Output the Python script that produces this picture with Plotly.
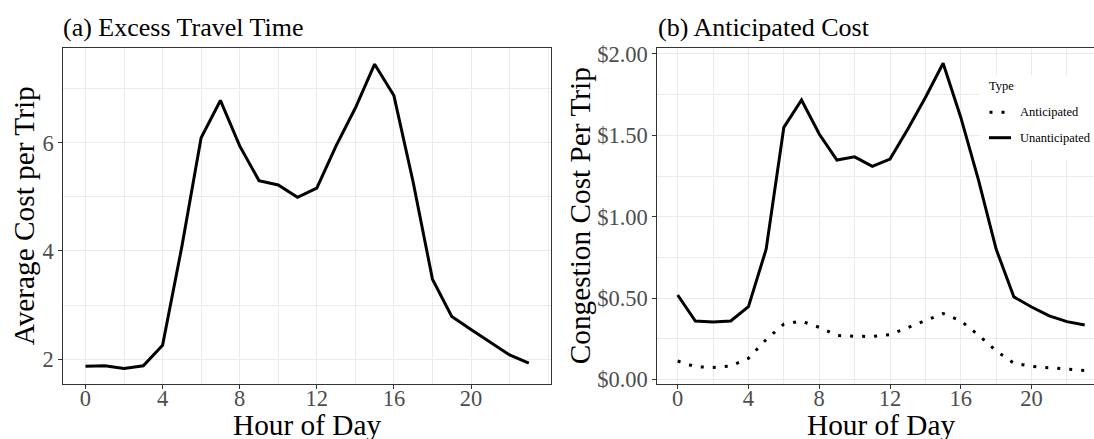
import plotly.graph_objects as go

W, H = 1094, 439

hours = list(range(24))
excess_cost = [1.87, 1.88, 1.83, 1.88, 2.26, 4.08, 6.09, 6.78, 5.94, 5.30, 5.22, 4.99,
               5.16, 5.94, 6.64, 7.45, 6.87, 5.27, 3.48, 2.79, 2.55, 2.32, 2.08, 1.93]
unanticipated = [0.519, 0.359, 0.353, 0.359, 0.447, 0.80, 1.549, 1.717, 1.508, 1.348, 1.368, 1.309,
                 1.354, 1.538, 1.733, 1.943, 1.61, 1.225, 0.80, 0.507, 0.445, 0.39, 0.355, 0.334]
anticipated = [0.113, 0.078, 0.074, 0.082, 0.13, 0.245, 0.34, 0.358, 0.32, 0.27, 0.265, 0.264,
               0.275, 0.32, 0.365, 0.405, 0.36, 0.272, 0.175, 0.10, 0.08, 0.071, 0.06, 0.055]
hour_ticks = [0, 4, 8, 12, 16, 20]

title_a = "(a) Excess Travel Time"
title_b = "(b) Anticipated Cost"
xlabel = "Hour of Day"
ylabel_a = "Average Cost per Trip"
ylabel_b = "Congestion Cost Per Trip"
legend_title = "Type"
legend_names = ["Anticipated", "Unanticipated"]

FONT = "Liberation Serif, Times New Roman, serif"
GRID = "#EBEBEB"
BORDER = "#333333"
TICKC = "#4D4D4D"


def px(x):
    return x / W


def py(y):
    return 1 - y / H


fig = go.Figure()
fig.add_trace(go.Scatter(x=hours, y=excess_cost, mode="lines", line=dict(color="black", width=3),
                         xaxis="x", yaxis="y", showlegend=False))
fig.add_trace(go.Scatter(x=hours, y=anticipated, mode="lines", name=legend_names[0],
                         line=dict(color="black", width=3, dash="3px,9px"),
                         xaxis="x2", yaxis="y2", showlegend=False))
fig.add_trace(go.Scatter(x=hours, y=unanticipated, mode="lines", name=legend_names[1],
                         line=dict(color="black", width=3),
                         xaxis="x2", yaxis="y2", showlegend=False))

ydom = [py(384.3), py(48.3)]
common_x = dict(tickmode="array", tickvals=hour_ticks, ticks="outside", ticklen=4, tickwidth=1.1,
                tickcolor=BORDER, showline=True, linecolor=BORDER, linewidth=1.1,
                showgrid=True, gridcolor=GRID, gridwidth=1.2, zeroline=False,
                tickfont=dict(family=FONT, size=22.5, color=TICKC), ticklabelstandoff=-10,
                minor=dict(tick0=0, dtick=2, showgrid=True, gridcolor=GRID, gridwidth=0.6),
                automargin=False)
common_y = dict(ticks="outside", ticklen=4, tickwidth=1.1, tickcolor=BORDER,
                showline=True, linecolor=BORDER, linewidth=1.1,
                showgrid=True, gridcolor=GRID, gridwidth=1.2, zeroline=False,
                tickfont=dict(family=FONT, size=22.5, color=TICKC), automargin=False)

fig.update_layout(
    width=W, height=H, autosize=False,
    margin=dict(l=0, r=0, t=0, b=0),
    paper_bgcolor="white", plot_bgcolor="white",
    font=dict(family=FONT, color="black"),
    xaxis=dict(domain=[px(63.3), px(551)], range=[-1.15, 24.15], anchor="y", mirror=True, **common_x),
    yaxis=dict(domain=ydom, range=[1.538, 7.743], anchor="x", mirror=True, tickmode="linear",
               tick0=2, dtick=2,
               minor=dict(tick0=1, dtick=1, showgrid=True, gridcolor=GRID, gridwidth=0.6),
               **common_y),
    xaxis2=dict(domain=[px(657.3), 1.0], range=[-1.15, 23.526], anchor="y2", mirror=True, **common_x),
    yaxis2=dict(domain=ydom, range=[-0.03, 2.035], anchor="x2", mirror=False, tickmode="linear",
                tick0=0, dtick=0.5, tickformat="$.2f",
                minor=dict(tick0=0, dtick=0.25, showgrid=True, gridcolor=GRID, gridwidth=0.6),
                **common_y),
    showlegend=False,
)

ann = []
# panel titles
ann.append(dict(text=title_a, x=px(61), y=py(27), xanchor="left", yanchor="middle",
                font=dict(size=26)))
ann.append(dict(text=title_b, x=px(656), y=py(27), xanchor="left", yanchor="middle",
                font=dict(size=26)))
# axis titles
ann.append(dict(text=xlabel, x=px(307), y=py(425), xanchor="center", yanchor="middle",
                font=dict(size=29.3)))
ann.append(dict(text=xlabel, x=px(881), y=py(425), xanchor="center", yanchor="middle",
                font=dict(size=29.3)))
ann.append(dict(text=ylabel_a, x=px(24), y=py(216.3), textangle=-90, xanchor="center",
                yanchor="middle", font=dict(size=29.3)))
ann.append(dict(text=ylabel_b, x=px(580), y=py(216.3), textangle=-90, xanchor="center",
                yanchor="middle", font=dict(size=29.3)))
# legend
ann.append(dict(text=legend_title, x=px(987), y=py(86), xanchor="left", yanchor="middle",
                font=dict(size=12.5)))
ann.append(dict(text=legend_names[0], x=px(1018), y=py(112.3), xanchor="left", yanchor="middle",
                font=dict(size=12.5)))
ann.append(dict(text=legend_names[1], x=px(1018), y=py(137.7), xanchor="left", yanchor="middle",
                font=dict(size=12.5)))
for a in ann:
    a.update(xref="paper", yref="paper", showarrow=False)
    a["font"].update(family=FONT, color="black")
fig.update_layout(annotations=ann)

shapes = [
    dict(type="rect", xref="paper", yref="paper", x0=px(980), x1=1.0, y0=py(160), y1=py(75),
         fillcolor="white", line=dict(width=0), layer="above"),
    dict(type="line", xref="paper", yref="paper", x0=px(989.5), x1=px(1011), y0=py(112.3), y1=py(112.3),
         line=dict(color="black", width=3, dash="3px,9px"), layer="above"),
    dict(type="line", xref="paper", yref="paper", x0=px(989), x1=px(1011), y0=py(137.7), y1=py(137.7),
         line=dict(color="black", width=3), layer="above"),
]
fig.update_layout(shapes=shapes)

# remove the browser's default 8px body margin so the figure fills the window exactly
fig.write_html("out.html", config={"displayModeBar": False},
               post_script="document.body.style.margin='0';")
